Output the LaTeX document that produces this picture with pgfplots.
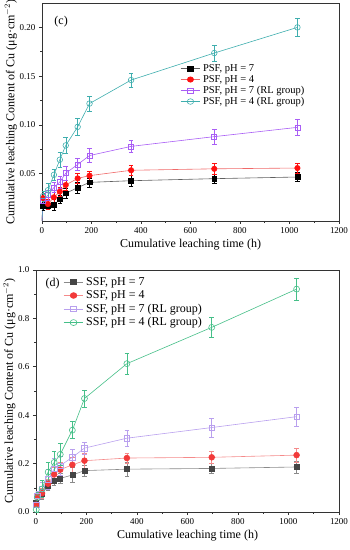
\documentclass[border=0pt]{standalone}
\usepackage{fontspec}
\setmainfont{Liberation Serif}
\usepackage{pgfplots}
\pgfplotsset{compat=1.18}
\definecolor{cBlkL}{HTML}{606060}
\definecolor{cRed}{HTML}{FF1010}
\definecolor{cRedL}{HTML}{F06A6A}
\definecolor{cPur}{HTML}{A95EF5}
\definecolor{cTeal}{HTML}{3FAEAE}
\definecolor{dBlk}{HTML}{454545}
\definecolor{dBlkL}{HTML}{8A8A8A}
\definecolor{dRed}{HTML}{F23A3A}
\definecolor{dRedL}{HTML}{F58A8A}
\definecolor{dPur}{HTML}{B9A0EE}
\definecolor{dGrn}{HTML}{45BF88}
\pgfplotsset{myax/.style={
  scale only axis,
  axis line style={line width=0.8pt, black!80},
  tick align=outside, xtick pos=bottom, ytick pos=left,
  major tick length=3pt, minor tick length=1.8pt,
  every tick/.style={black!80, line width=0.6pt},
  ticklabel style={font=\fontsize{9}{10}\selectfont},
  label style={font=\fontsize{12}{14}\selectfont},
  xlabel style={yshift=1pt},
  ylabel shift=-4pt,
  /pgf/number format/assume math mode=true,
  x tick label style={/pgf/number format/1000 sep={}},
  xmin=0, xmax=1200, xtick={0,200,...,1200}, minor x tick num=1,
  xlabel={Cumulative leaching time (h)},
  ylabel={Cumulative leaching Content of Cu (μg·cm$^{-2}$)},
  legend style={draw=none, fill=none, nodes={inner ysep=0.5pt, inner xsep=2.5pt}},
  legend image post style={xscale=1.15},
  legend cell align=left,
  error bars/error bar style={line width=0.5pt, solid},
  error bars/error mark options={rotate=90, mark size=2.3pt, line width=0.5pt},
}}
\begin{document}
\begin{tikzpicture}
\path[use as bounding box] (0pt,0pt) rectangle (350pt,550pt);
% ---------------- top (c)
\begin{axis}[myax, at={(42pt,329pt)}, anchor=south west, width=297pt, height=218pt,
  ymin=0.0015, ymax=0.225, ytick={0.05,0.10,0.15,0.20}, minor y tick num=1,
  yticklabel style={/pgf/number format/fixed, /pgf/number format/fixed zerofill, /pgf/number format/precision=2},
  legend style={at={(0.455,0.73)}, anchor=north west, font=\fontsize{10.5}{11}\selectfont, row sep=1.3pt}]
\addplot[cBlkL, line width=0.6pt, forget plot] coordinates {(0,0) (4,0.017)};
\addplot[cRedL, line width=0.6pt, forget plot] coordinates {(0,0) (4,0.025)};
\addplot[cPur, line width=0.6pt, forget plot] coordinates {(0,0) (4,0.022)};
\addplot[cTeal, line width=0.6pt, forget plot] coordinates {(0,0) (4,0.027)};
\addplot[cBlkL, line width=0.6pt, mark=square*, mark size=2.4pt, mark options={black, fill=black},
  error bars/.cd, y dir=both, y explicit, error bar style={black}] coordinates {
 (4,0.017) +- (0,0.004) (24,0.0172) +- (0,0.004) (48,0.0180) +- (0,0.0055) (72,0.0237) +- (0,0.0045)
 (96,0.0299) +- (0,0.005) (144,0.0357) +- (0,0.006) (192,0.0411) +- (0,0.0045) (360,0.0428) +- (0,0.006)
 (696,0.0449) +- (0,0.0046) (1032,0.0466) +- (0,0.0046)};
\addlegendentry{PSF, pH = 7}
\addplot[cRedL, line width=0.6pt, mark=*, mark size=2.7pt, mark options={cRed, fill=cRed},
  error bars/.cd, y dir=both, y explicit, error bar style={cRed}] coordinates {
 (4,0.025) +- (0,0.005) (24,0.0189) +- (0,0.005) (48,0.0258) +- (0,0.005) (72,0.0316) +- (0,0.005)
 (96,0.0384) +- (0,0.005) (144,0.0452) +- (0,0.005) (192,0.0480) +- (0,0.005) (360,0.0535) +- (0,0.005)
 (696,0.0550) +- (0,0.0055) (1032,0.0558) +- (0,0.005)};
\addlegendentry{PSF, pH = 4}
\addplot[cPur, line width=0.6pt, mark=square, mark size=2.5pt, mark options={cPur, fill=white, line width=0.6pt},
  error bars/.cd, y dir=both, y explicit, error bar style={cPur}] coordinates {
 (4,0.022) +- (0,0.005) (24,0.028) +- (0,0.005) (48,0.0358) +- (0,0.005) (72,0.0415) +- (0,0.006)
 (96,0.0505) +- (0,0.007) (144,0.0594) +- (0,0.006) (192,0.0686) +- (0,0.007) (360,0.078) +- (0,0.0065)
 (696,0.088) +- (0,0.0077) (1032,0.0975) +- (0,0.0085)};
\addlegendentry{PSF, pH = 7 (RL group)}
\addplot[cTeal, line width=0.6pt, mark=o, mark size=2.8pt, mark options={cTeal, fill=white, line width=0.6pt},
  error bars/.cd, y dir=both, y explicit, error bar style={cTeal}] coordinates {
 (4,0.027) +- (0,0.005) (24,0.0330) +- (0,0.007) (48,0.0488) +- (0,0.006) (72,0.0643) +- (0,0.008)
 (96,0.0790) +- (0,0.008) (144,0.0980) +- (0,0.009) (192,0.1219) +- (0,0.008) (360,0.146) +- (0,0.0073)
 (696,0.1737) +- (0,0.008) (1032,0.200) +- (0,0.0089)};
\addlegendentry{PSF, pH = 4 (RL group)}
\node[anchor=west, font=\fontsize{12}{14}\selectfont] at (rel axis cs:0.03,0.913) {(c)};
\end{axis}
% ---------------- bottom (d)
\begin{axis}[myax, at={(36pt,38pt)}, anchor=south west, width=303pt, height=242pt,
  ymin=0, ymax=1.0, ytick={0,0.2,...,1.0}, minor y tick num=1,
  yticklabel style={/pgf/number format/fixed, /pgf/number format/fixed zerofill, /pgf/number format/precision=1},
  legend style={at={(0.08,0.98)}, anchor=north west, font=\fontsize{12}{13}\selectfont, row sep=2.8pt}]
\addplot[dBlkL, line width=0.6pt, mark=square*, mark size=2.5pt, mark options={dBlk, fill=dBlk},
  error bars/.cd, y dir=both, y explicit, error bar style={dBlkL}] coordinates {
 (1,0.04) +- (0,0.01) (5,0.065) +- (0,0.015) (24,0.074) +- (0,0.02) (48,0.11) +- (0,0.02)
 (72,0.13) +- (0,0.02) (96,0.139) +- (0,0.02) (144,0.153) +- (0,0.03) (192,0.171) +- (0,0.024)
 (360,0.177) +- (0,0.028) (696,0.180) +- (0,0.021) (1032,0.186) +- (0,0.024)};
\addlegendentry{SSF, pH = 7}
\addplot[dRedL, line width=0.6pt, mark=*, mark size=2.9pt, mark options={dRed, fill=dRed},
  error bars/.cd, y dir=both, y explicit, error bar style={dRedL}] coordinates {
 (1,0.03) +- (0,0.01) (5,0.065) +- (0,0.015) (24,0.078) +- (0,0.02) (48,0.117) +- (0,0.02)
 (72,0.155) +- (0,0.03) (96,0.175) +- (0,0.03) (144,0.195) +- (0,0.03) (192,0.212) +- (0,0.03)
 (360,0.223) +- (0,0.02) (696,0.226) +- (0,0.026) (1032,0.235) +- (0,0.03)};
\addlegendentry{SSF, pH = 4}
\addplot[dPur, line width=0.6pt, mark=square, mark size=2.7pt, mark options={dPur, fill=white, line width=0.6pt},
  error bars/.cd, y dir=both, y explicit, error bar style={dPur}] coordinates {
 (1,0.03) +- (0,0.01) (5,0.067) +- (0,0.02) (24,0.095) +- (0,0.03) (48,0.135) +- (0,0.04)
 (72,0.178) +- (0,0.045) (96,0.192) +- (0,0.04) (144,0.226) +- (0,0.035) (192,0.264) +- (0,0.025)
 (360,0.305) +- (0,0.032) (696,0.349) +- (0,0.04) (1032,0.394) +- (0,0.04)};
\addlegendentry{SSF, pH = 7 (RL group)}
\addplot[dGrn, line width=0.6pt, mark=o, mark size=3pt, mark options={dGrn, fill=white, line width=0.6pt},
  error bars/.cd, y dir=both, y explicit, error bar style={dGrn}] coordinates {
 (1,0.01) +- (0,0.01) (5,0.06) +- (0,0.02) (24,0.095) +- (0,0.035) (48,0.165) +- (0,0.04)
 (72,0.205) +- (0,0.045) (96,0.238) +- (0,0.045) (144,0.338) +- (0,0.035) (192,0.469) +- (0,0.035)
 (360,0.613) +- (0,0.045) (696,0.763) +- (0,0.04) (1032,0.921) +- (0,0.045)};
\addlegendentry{SSF, pH = 4 (RL group)}
\node[anchor=west, font=\fontsize{12}{14}\selectfont] at (rel axis cs:0.02,0.945) {(d)};
\end{axis}
\end{tikzpicture}
\end{document}
